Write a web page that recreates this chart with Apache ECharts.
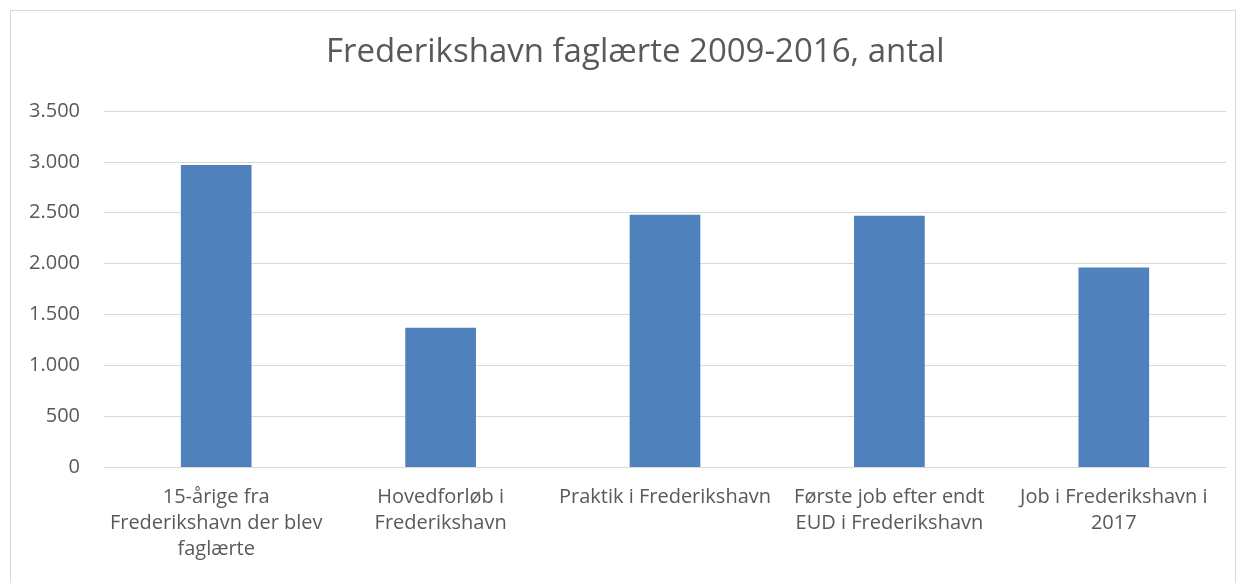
<!DOCTYPE html>
<html>
<head>
<meta charset="utf-8">
<script src="https://cdn.jsdelivr.net/npm/echarts@6/dist/echarts.min.js"></script>
<style>
  html, body { margin: 0; padding: 0; background: #fff; }
  #chart { width: 1246px; height: 583px; }
  .frame {
    position: absolute; left: 10px; top: 10px; width: 1226px; height: 600px;
    border: 1px solid #d9d9d9; box-sizing: border-box; pointer-events: none;
  }
</style>
</head>
<body>
<div id="chart"></div>
<div class="frame"></div>
<script>
const categories = [
  '15-årige fra\nFrederikshavn der blev\nfaglærte',
  'Hovedforløb i\nFrederikshavn',
  'Praktik i Frederikshavn',
  'Første job efter endt\nEUD i Frederikshavn',
  'Job i Frederikshavn i\n2017'
]
const antal = [2970, 1368, 2480, 2471, 1962]

const font = '"Open Sans", sans-serif'
const textColor = '#595959'

const chart = echarts.init(document.getElementById('chart'))

chart.setOption({
  animation: false,
  title: {
    text: 'Frederikshavn faglærte 2009-2016, antal',
    left: 321,
    top: 31,
    textStyle: {
      fontFamily: font,
      fontSize: 33,
      fontWeight: 'normal',
      color: textColor
    }
  },
  grid: {
    left: 104,
    right: 20,
    top: 111,
    bottom: 116
  },
  xAxis: {
    type: 'category',
    data: categories,
    axisLine: { lineStyle: { color: '#d9d9d9' } },
    axisTick: { show: false },
    axisLabel: {
      color: textColor,
      fontFamily: font,
      fontSize: 20,
      lineHeight: 26,
      margin: 17,
      interval: 0
    }
  },
  yAxis: {
    type: 'value',
    min: 0,
    max: 3500,
    interval: 500,
    axisLine: { show: false },
    axisTick: { show: false },
    splitLine: { lineStyle: { color: '#d9d9d9' } },
    axisLabel: {
      color: textColor,
      fontFamily: font,
      fontSize: 20,
      margin: 24,
      formatter: v => String(v).replace(/\B(?=(\d{3})+(?!\d))/g, '.')
    }
  },
  series: [
    {
      type: 'bar',
      data: antal,
      barWidth: '31.5%',
      itemStyle: { color: '#4f81bd' }
    }
  ]
})
</script>
</body>
</html>
